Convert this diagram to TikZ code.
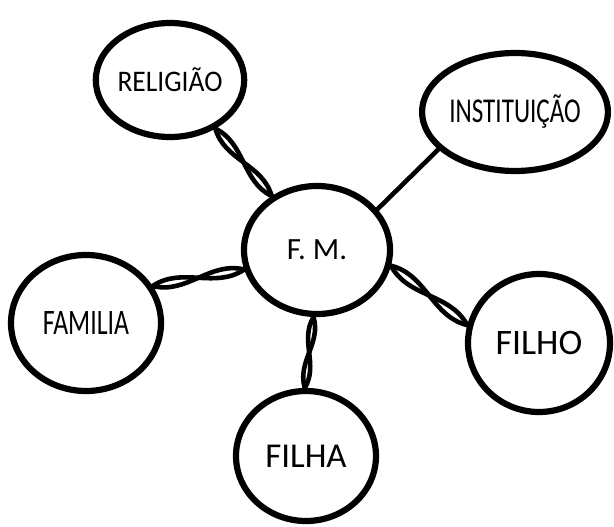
\documentclass[tikz,border=0pt]{standalone}
\usepackage{fontspec}
\setmainfont{Carlito}
\usetikzlibrary{shapes.geometric,calc}

\tikzset{
  bubble/.style={draw=black, line width=6.2bp, ellipse, inner sep=0pt, fill=white},
  link/.style={line width=4.6bp, line cap=round}
}
% two strands twisted round each other
\newcommand{\twist}[2]{%
  \draw[link] (#1) .. controls ($(#1)!.38!24:(#2)$) and ($(#2)!.38!24:(#1)$) .. (#2);
  \draw[link] (#1) .. controls ($(#1)!.38!-24:(#2)$) and ($(#2)!.38!-24:(#1)$) .. (#2);}

\begin{document}
\begin{tikzpicture}[x=1bp, y=-1bp]
  \useasboundingbox (0,0) rectangle (614,527);

  \node[bubble, minimum width=120bp, minimum height=114bp] (rel) at (170,80)
    {\scalebox{.92}[1]{\fontsize{30}{30}\selectfont RELIGIÃO}};
  \node[bubble, minimum width=150bp, minimum height=118bp] (inst) at (515,112)
    {\scalebox{.72}[1]{\fontsize{35}{35}\selectfont INSTITUIÇÃO}};
  \node[bubble, minimum width=146bp, minimum height=128bp] (fm) at (317,250)
    {\fontsize{31}{31}\selectfont F. M.};
  \node[bubble, minimum width=150bp, minimum height=136bp] (fam) at (86,323)
    {\scalebox{.72}[1]{\fontsize{36}{36}\selectfont FAMILIA}};
  \node[bubble, minimum width=142bp, minimum height=138bp] (filho) at (539,343)
    {\fontsize{36}{36}\selectfont FILHO};
  \node[bubble, minimum width=140bp, minimum height=130bp] (filha) at (306,456)
    {\fontsize{35}{35}\selectfont FILHA};

  % connectors
  \twist{rel.313}{fm.130}
  \draw[link] (inst.206) -- (fm.34);
  \twist{fam.29}{fm.195}
  \twist{fm.348}{filho.166}
  \twist{fm.267}{filha.91}
\end{tikzpicture}
\end{document}
